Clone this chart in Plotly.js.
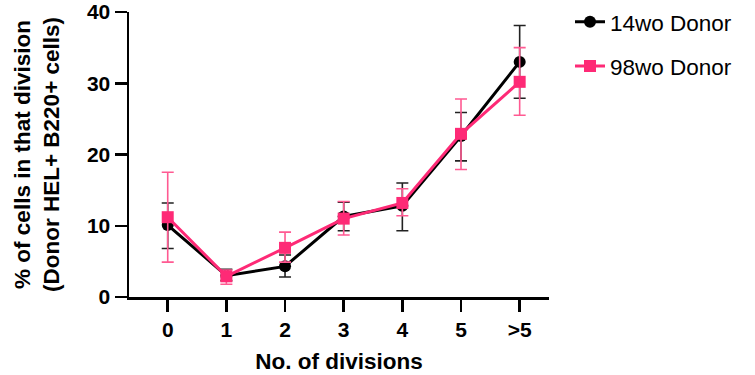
<!DOCTYPE html>
<html><head><meta charset="utf-8">
<script src="https://cdn.plot.ly/plotly-3.0.1.min.js"></script>
<style>body{margin:0;background:#fff}#c{width:755px;height:375px}</style>
</head><body><div id="c"></div>
<script>
var categories = ["0","1","2","3","4","5",">5"];
var donor14 = [10.1, 3.0, 4.3, 11.3, 12.8, 22.6, 33.0];
var donor14Up = [3.1, 0.9, 1.6, 2.0, 3.2, 3.3, 5.1];
var donor14Down = [3.3, 0.7, 1.5, 2.0, 3.5, 3.5, 5.1];
var donor98 = [11.2, 2.9, 6.9, 11.0, 13.2, 22.9, 30.2];
var donor98Up = [6.3, 0.9, 2.2, 2.4, 2.0, 4.9, 4.8];
var donor98Down = [6.3, 1.1, 2.0, 2.3, 1.8, 5.0, 4.7];
var names = ["14wo Donor", "98wo Donor"];

var font = "Liberation Sans, Arial, sans-serif";
var traces = [
  {x: categories, y: donor14, name: names[0], type: "scatter", mode: "lines+markers", legendgroup: "a",
   line: {color: "#000000", width: 3}, marker: {symbol: "circle", size: 12, color: "#000000"},
   error_y: {type: "data", symmetric: false, array: donor14Up, arrayminus: donor14Down, color: "#222222", thickness: 1.6, width: 6}},
  {x: categories, y: donor98, name: names[1], type: "scatter", mode: "lines+markers", legendgroup: "b",
   line: {color: "#fe2a76", width: 3}, marker: {symbol: "square", size: 12, color: "#fe2a76"},
   error_y: {type: "data", symmetric: false, array: donor98Up, arrayminus: donor98Down, color: "#ff5a92", thickness: 1.6, width: 6}}
];
var layout = {
  width: 755, height: 375,
  margin: {l: 129, r: 206, t: 12, b: 78, autoexpand: false},
  paper_bgcolor: "#fff", plot_bgcolor: "#fff",
  font: {family: font, color: "#000"},
  showlegend: true,
  legend: {x: 1.05, y: 1.04, xanchor: "left", yanchor: "top", font: {size: 22.5, family: font, color: "#000"},
           tracegroupgap: 12, traceorder: "grouped", bgcolor: "rgba(0,0,0,0)"},
  xaxis: {type: "category", range: [-0.66, 6.5], showgrid: false, zeroline: false, automargin: false,
          showline: true, linecolor: "#000", linewidth: 2.5,
          ticks: "outside", ticklen: 12, tickwidth: 2.5, tickcolor: "#000",
          tickfont: {size: 21, family: font, weight: "bold"},
          title: {text: "No. of divisions", font: {size: 22.5, family: font, weight: "bold"}, standoff: 14}},
  yaxis: {range: [0, 40], tickvals: [0,10,20,30,40], showgrid: false, zeroline: false, automargin: false,
          showline: true, linecolor: "#000", linewidth: 2.5,
          ticks: "outside", ticklen: 12, tickwidth: 2.5, tickcolor: "#000",
          tickfont: {size: 21, family: font, weight: "bold"},
          title: {text: "% of cells in that division<br>(Donor HEL+ B220+ cells)", font: {size: 22.5, family: font, weight: "bold"}, standoff: 21}}
};
Plotly.newPlot("c", traces, layout, {displayModeBar: false, staticPlot: true});
</script></body></html>
